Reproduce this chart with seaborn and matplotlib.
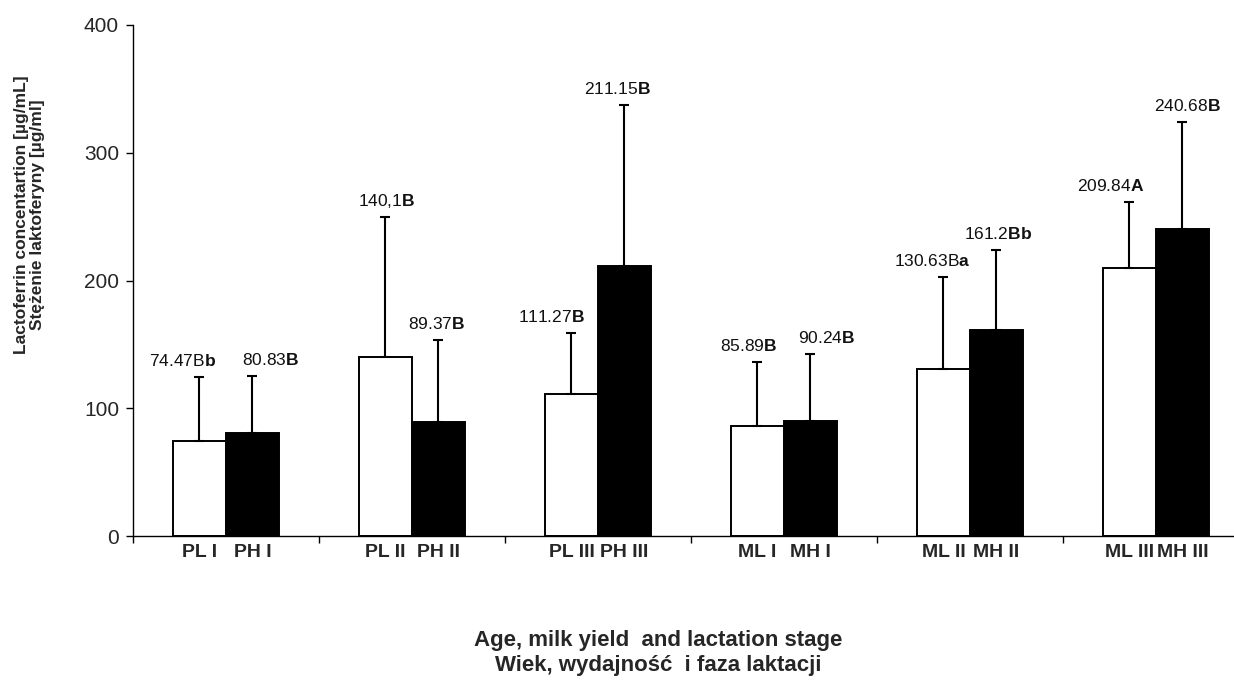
import numpy as np
import pandas as pd
import matplotlib
matplotlib.use('Agg')
import matplotlib.pyplot as plt
import seaborn as sns

# data
groups = ['P I', 'P II', 'P III', 'M I', 'M II', 'M III']
low_names = ['PL I', 'PL II', 'PL III', 'ML I', 'ML II', 'ML III']
high_names = ['PH I', 'PH II', 'PH III', 'MH I', 'MH II', 'MH III']
low_mean = [74.47, 140.1, 111.27, 85.89, 130.63, 209.84]
high_mean = [80.83, 89.37, 211.15, 90.24, 161.2, 240.68]
low_sd = [49.8, 109.4, 47.9, 50.3, 72.1, 51.4]
high_sd = [44.4, 63.8, 126.2, 52.0, 62.7, 83.1]
low_text = ['74.47B', '140,1', '111.27', '85.89', '130.63B', '209.84']
low_bold = ['b', 'B', 'B', 'B', 'a', 'A']
high_text = ['80.83', '89.37', '211.15', '90.24', '161.2', '240.68']
high_bold = ['B', 'B', 'B', 'B', 'Bb', 'B']

# small horizontal nudges of the value labels (pixels), as in the original
low_nudge = [-17, 1, -20, -9, -11, -19]
high_nudge = [18, -2, -7, 16, 2, 5]

sns.set_style('ticks')
plt.rcParams['font.family'] = ['Liberation Sans', 'DejaVu Sans']
plt.rcParams['mathtext.fontset'] = 'custom'
plt.rcParams['mathtext.rm'] = 'Liberation Sans'
plt.rcParams['mathtext.bf'] = 'Liberation Sans:bold'

df = pd.DataFrame({
    'group': groups * 2,
    'level': ['L'] * len(groups) + ['H'] * len(groups),
    'mean': low_mean + high_mean,
})

fig = plt.figure(figsize=(12.34, 6.81), dpi=100)
ax = fig.add_axes([133 / 1234, 1 - 536 / 681, 1 - 133 / 1234, 511 / 681])

sns.barplot(data=df, x='group', y='mean', hue='level', order=groups, hue_order=['L', 'H'],
            palette={'L': 'white', 'H': 'black'}, edgecolor='black', linewidth=1.4,
            width=0.57, errorbar=None, legend=False, ax=ax)

centers = []
for cont, sd, texts, bolds, nudges in [
        (ax.containers[0], low_sd, low_text, low_bold, low_nudge),
        (ax.containers[1], high_sd, high_text, high_bold, high_nudge)]:
    xs = np.array([b.get_x() + b.get_width() / 2 for b in cont])
    tops = np.array([b.get_height() for b in cont])
    centers.extend(xs)
    ax.errorbar(xs, tops, yerr=[np.zeros(len(sd)), sd], fmt='none', ecolor='black',
                elinewidth=1.5, capsize=3.5, capthick=1.5, zorder=3)
    for x, top, s, t, b, dx in zip(xs, tops, sd, texts, bolds, nudges):
        label = r'$\mathrm{' + t.replace(',', '{,}') + r'}\mathbf{' + b + '}$'
        ax.annotate(label, (x, top + s), xytext=(dx, 11), textcoords='offset pixels',
                    ha='center', va='baseline', fontsize=12.5, color='#111111')

names = low_names + high_names
order = np.argsort(centers)
bounds = np.arange(-0.5, len(groups), 1.0)
ax.set_xticks(bounds)
ax.set_xticklabels([''] * len(bounds))
ax.set_xticks(np.array(centers)[order], minor=True)
ax.set_xticklabels([names[i] for i in order], minor=True, fontweight='bold', fontsize=14)
ax.tick_params(axis='x', which='minor', length=0, pad=6)
ax.tick_params(axis='x', which='major', length=5, width=1, direction='out', color='black')

ax.set_ylim(0, 400)
ax.set_xlim(-0.5, 5.42)
ax.set_yticks([0, 100, 200, 300, 400])
ax.tick_params(axis='y', labelsize=15, length=5, width=1, pad=5, color='black')

for side in ['top', 'right']:
    ax.spines[side].set_visible(False)
for side in ['left', 'bottom']:
    ax.spines[side].set_color('black')
    ax.spines[side].set_linewidth(1)

ax.set_ylabel('Lactoferrin concentartion [µg/mL]\nStężenie laktoferyny [µg/ml]',
              fontsize=12.5, fontweight='bold', linespacing=1.05)
ax.yaxis.set_label_coords(-0.08, 0.628)
ax.set_xlabel('Age, milk yield  and lactation stage\nWiek, wydajność  i faza laktacji',
              fontsize=16, fontweight='bold', linespacing=1.25)
ax.xaxis.set_label_coords(0.477, -0.183)

fig.savefig('out.png', dpi=100)
